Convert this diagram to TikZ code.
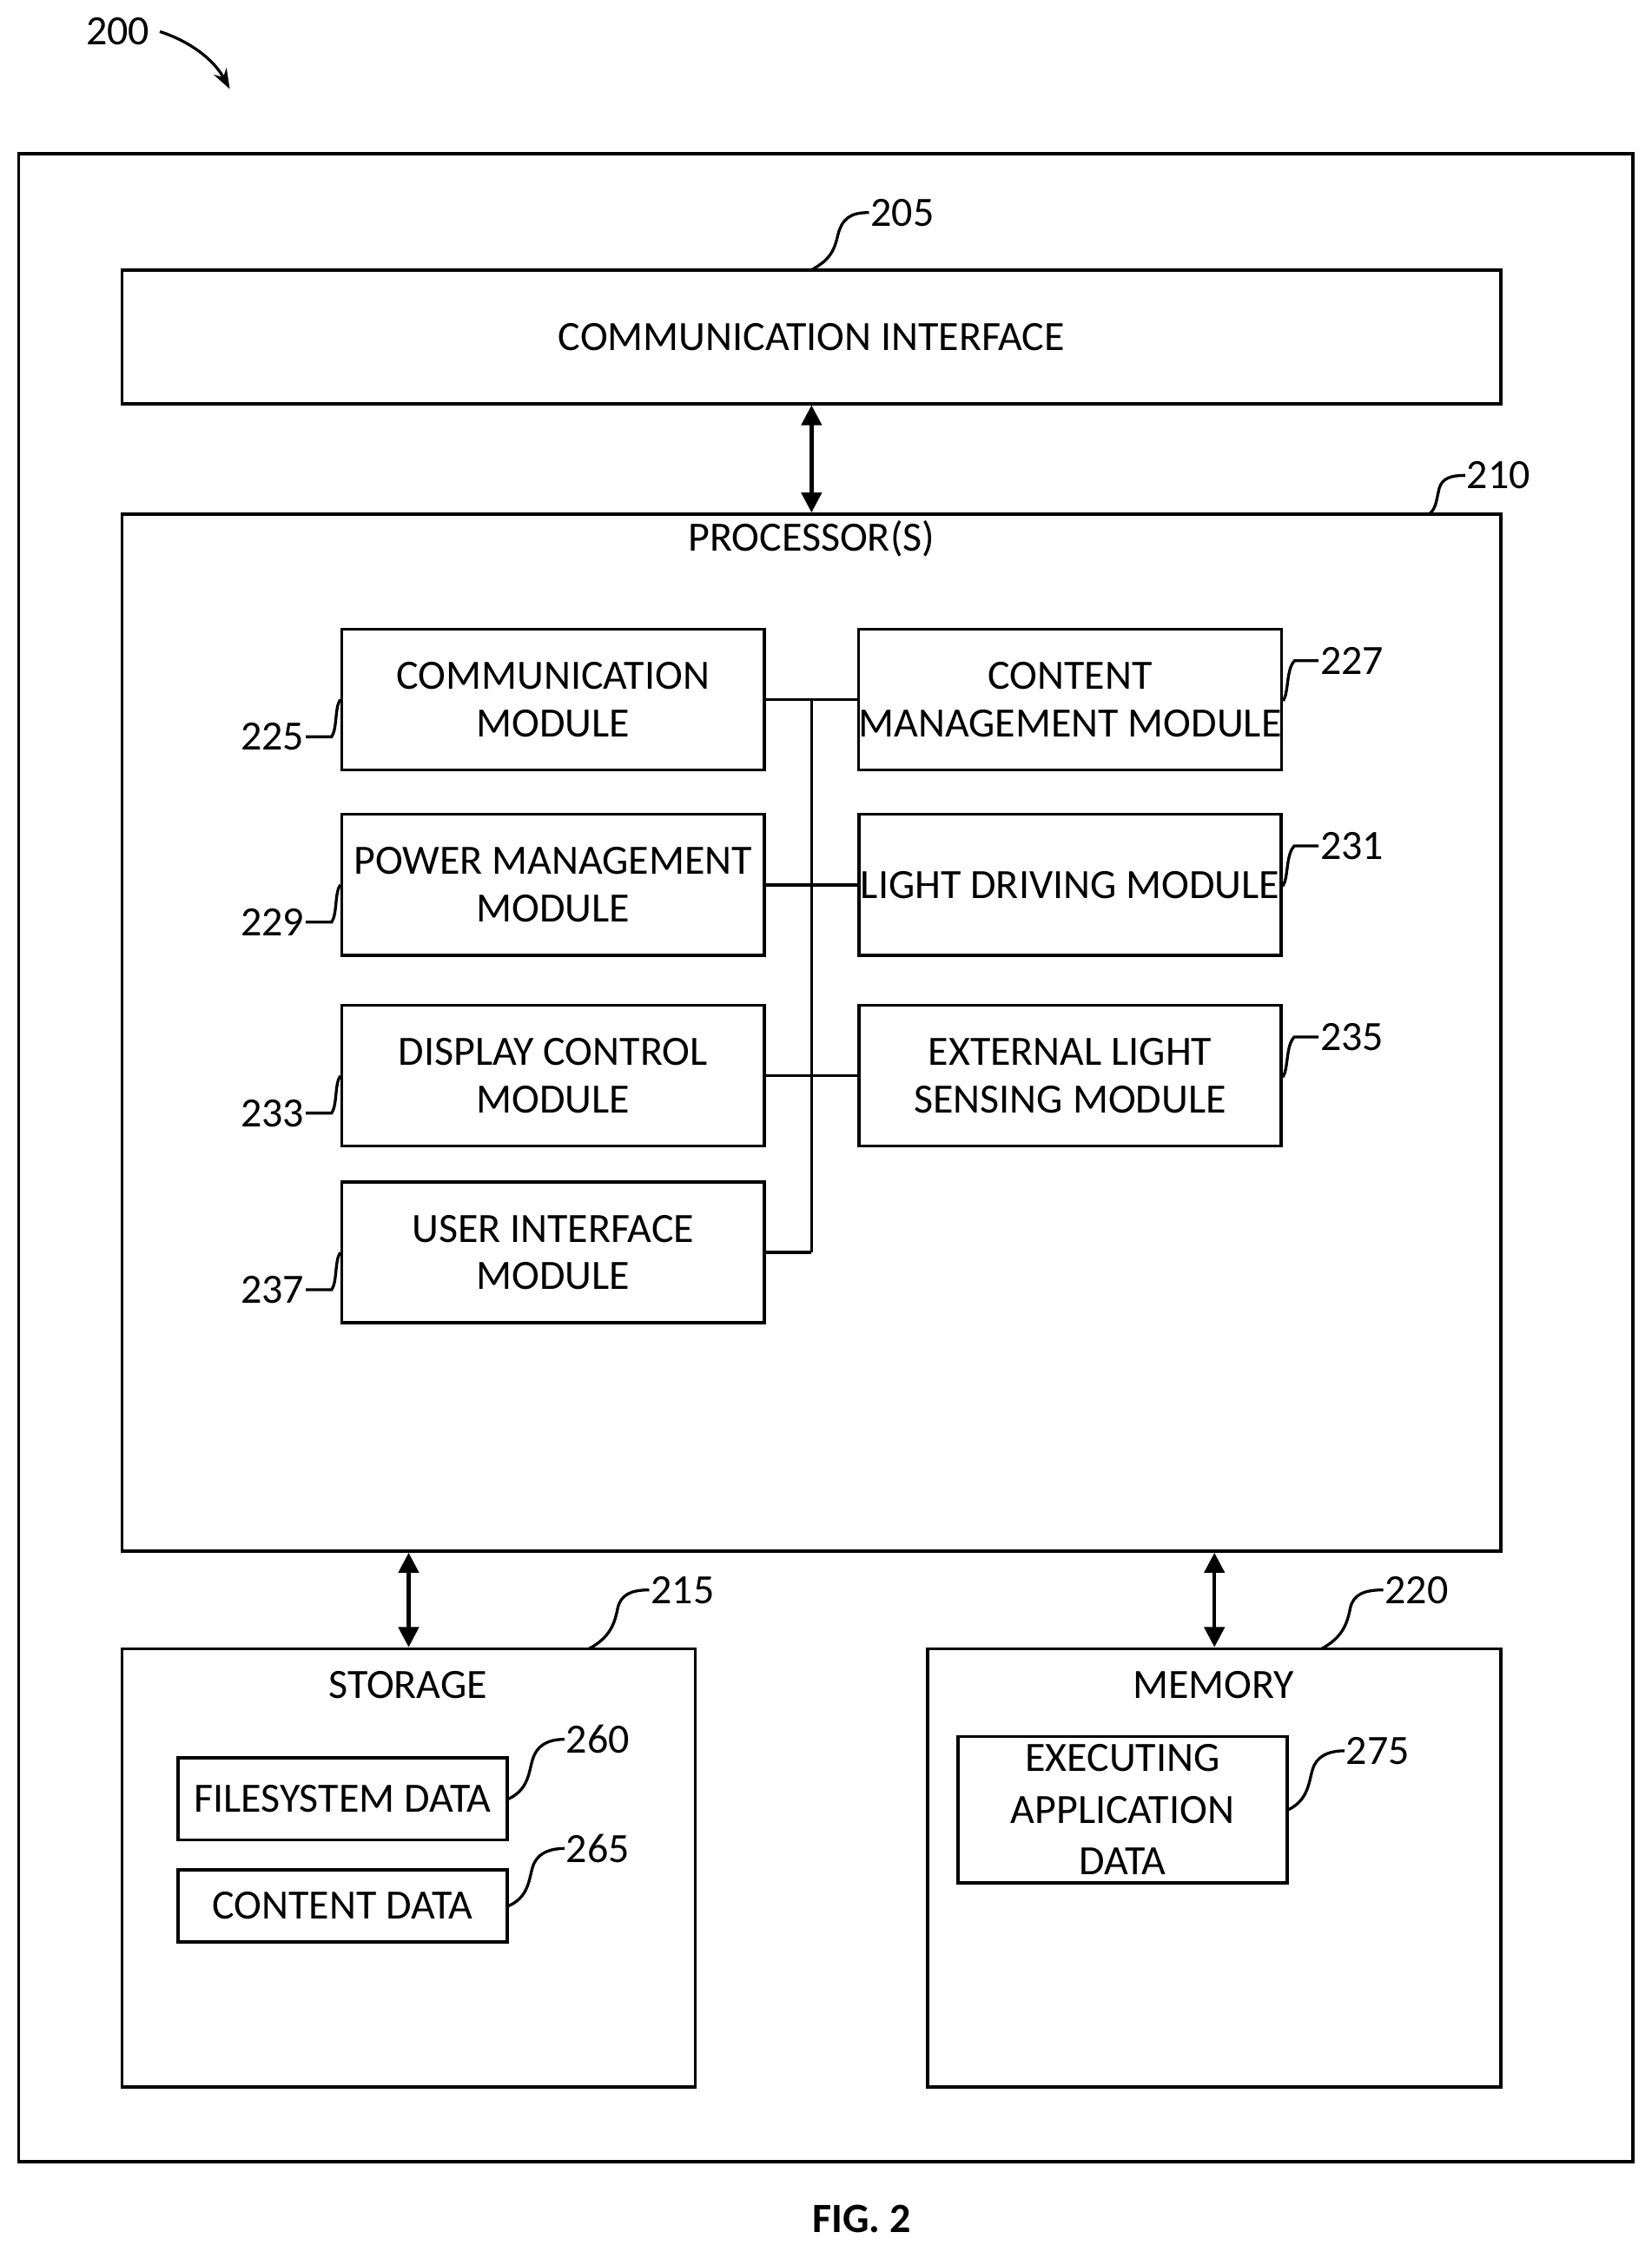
\documentclass[tikz,border=0pt]{standalone}
\usepackage{fontspec}
\setmainfont{Carlito}
\usetikzlibrary{arrows.meta}
\newcommand{\bx}[6]{\node[box,minimum width={#4-#2},minimum height={#5-#3}] (#1) at ({(#2+#4)/2},{(#3+#5)/2}) {#6};}
\begin{document}
\begin{tikzpicture}[x=1pt,y=-1pt,
  box/.style={draw,line width=2.2pt,align=center,inner sep=0pt,font=\fontsize{29}{33}\selectfont},
  num/.style={font=\fontsize{29}{30}\selectfont,inner sep=1pt},
  lead/.style={line width=2pt},
  dbl/.style={line width=2.6pt,{Triangle[length=14pt,width=14pt]}-{Triangle[length=14pt,width=14pt]}},
  bus/.style={line width=2.2pt}]
\useasboundingbox (0,0) rectangle (1150,1568);
\bx{outer}{13}{107}{1137}{1505}{}
\bx{ci}{85}{188}{1045}{281}{COMMUNICATION INTERFACE}
\bx{proc}{85}{358}{1045}{1080}{}
\node[num] (proct) at (565,375) {PROCESSOR(S)};
\bx{cm}{238}{438}{532}{536}{COMMUNICATION\\MODULE}
\bx{pm}{238}{567}{532}{665}{POWER MANAGEMENT\\MODULE}
\bx{dc}{238}{700}{532}{798}{DISPLAY CONTROL\\MODULE}
\bx{ui}{238}{823}{532}{921}{USER INTERFACE\\MODULE}
\bx{cmm}{598}{438}{892}{536}{CONTENT\\MANAGEMENT MODULE}
\bx{ld}{598}{567}{892}{665}{LIGHT DRIVING MODULE}
\bx{el}{598}{700}{892}{798}{EXTERNAL LIGHT\\SENSING MODULE}
\bx{st}{85}{1148}{484}{1453}{}
\node[num] (stt) at (284,1173) {STORAGE};
\bx{fs}{124}{1224}{353}{1281}{FILESYSTEM DATA}
\bx{cd}{124}{1302}{353}{1352}{CONTENT DATA}
\bx{mem}{646}{1148}{1045}{1453}{}
\node[num] (memt) at (845,1173) {MEMORY};
\node[box,minimum width=229,minimum height=102,font=\fontsize{29}{36}\selectfont] (ex) at (781.5,1260) {EXECUTING\\APPLICATION\\DATA};
% bus
\coordinate (bt) at (565,487);
\coordinate (bb) at (565,872);
\draw[bus] (bt) -- (bb);
\foreach \n in {cm,pm,dc,ui} \draw[bus] (\n.east) -- (\n.east -| bt);
\foreach \n in {cmm,ld,el} \draw[bus] (\n.west) -- (\n.west -| bt);
% arrows
\draw[dbl] (ci.south) -- (proc.north);
\draw[dbl] (proc.south -| st.north) -- (st.north);
\draw[dbl] (proc.south -| mem.north) -- (mem.north);
% numbers
\node[num,anchor=west] (n205) at (605,148) {205};
\node[num,anchor=west] (n210) at (1020,331) {210};
\node[num,anchor=west] (n215) at (452,1107) {215};
\node[num,anchor=west] (n220) at (963,1107) {220};
\node[num,anchor=west] (n227) at (918,460) {227};
\node[num,anchor=west] (n231) at (918,589) {231};
\node[num,anchor=west] (n235) at (918,722) {235};
\node[num,anchor=east] (n225) at (213,513) {225};
\node[num,anchor=east] (n229) at (213,642) {229};
\node[num,anchor=east] (n233) at (213,775) {233};
\node[num,anchor=east] (n237) at (213,898) {237};
\node[num,anchor=west] (n260) at (393,1211) {260};
\node[num,anchor=west] (n265) at (393,1287) {265};
\node[num,anchor=west] (n275) at (936,1219) {275};
\node[num] (n200) at (82,22) {200};
\node[font=\bfseries\fontsize{29}{30}\selectfont] (fig) at (600,1545) {FIG. 2};
% leaders
\draw[lead] (565,188) .. controls (575,182) and (580,178) .. (583,165) .. controls (586,152) and (592,148) .. (n205.west);
\draw[lead] (995,358) .. controls (1000,354) and (1000,348) .. (1002,340) .. controls (1004,333) and (1010,331) .. (n210.west);
\draw[lead] (410,1148) .. controls (425,1140) and (428,1130) .. (430,1120) .. controls (432,1110) and (440,1107) .. (n215.west);
\draw[lead] (920,1148) .. controls (935,1140) and (938,1130) .. (940,1120) .. controls (942,1110) and (950,1107) .. (n220.west);
\foreach \b/\n in {cmm/n227,ld/n231,el/n235}
  \draw[lead] ([yshift=-1pt]\b.east) .. controls +(4,-6) and +(-6,6) .. ([xshift=8pt]\b.east |- \n.west) -- (\n.west);
\foreach \b/\n in {cm/n225,pm/n229,dc/n233,ui/n237}
  \draw[lead] (\b.west) .. controls +(-4,6) and +(4,-6) .. ([xshift=-6pt]\b.west |- \n.east) -- (\n.east);
\draw[lead] (fs.east) .. controls (370,1245) and (368,1230) .. (372,1222) .. controls (376,1213) and (385,1211) .. (n260.west);
\draw[lead] (cd.east) .. controls (370,1320) and (368,1305) .. (372,1297) .. controls (376,1289) and (385,1287) .. (n265.west);
\draw[lead] (ex.east) .. controls (913,1252) and (911,1237) .. (915,1229) .. controls (919,1221) and (928,1219) .. (n275.west);
\draw[lead,-{Stealth[length=14pt,width=10pt]}] ([xshift=6pt]n200.east) .. controls (130,28) and (148,40) .. (160,62);
\end{tikzpicture}
\end{document}
